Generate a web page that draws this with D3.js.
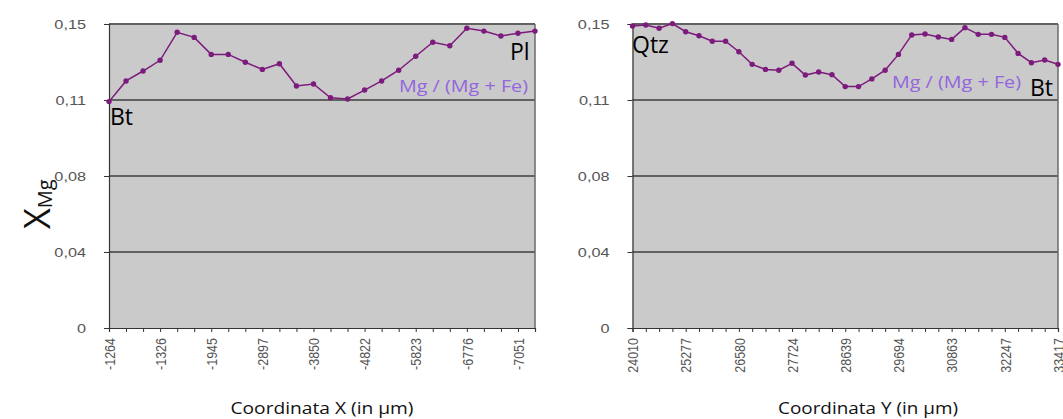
<!DOCTYPE html>
<html><head><meta charset="utf-8">
<script src="https://cdn.jsdelivr.net/npm/d3@7"></script>
<style>body{margin:0;background:#fff}svg{display:block}</style>
</head><body>
<svg id="c" width="1063" height="419"></svg>
<script>
const leftValues = [0.1117,0.1219,0.1268,0.1321,0.1459,0.1434,0.1350,0.1350,0.1311,0.1276,0.1304,0.1194,0.1204,0.1136,0.1130,0.1174,0.1219,0.1272,0.1341,0.1410,0.1393,0.1479,0.1465,0.1441,0.1454,0.1465];
const leftTickLabels = ["-1264","-1326","-1945","-2897","-3850","-4822","-5823","-6776","-7051"];
const rightValues = [0.1490,0.1495,0.1479,0.1502,0.1462,0.1442,0.1415,0.1415,0.1363,0.1301,0.1276,0.1272,0.1306,0.1248,0.1263,0.1250,0.1191,0.1191,0.1229,0.1272,0.1350,0.1446,0.1451,0.1436,0.1424,0.1482,0.1449,0.1449,0.1434,0.1355,0.1309,0.1322,0.1301];
const rightTickLabels = ["24010","25277","26580","27724","28639","29694","30863","32247","33417"];
const yTicks = [0, 0.0375, 0.075, 0.1125, 0.15];
const yTickLabels = ["0","0,04","0,08","0,11","0,15"];
const seriesName = "Mg / (Mg + Fe)";

const svg = d3.select("#c");
const purple = "#7d1a7d";

function stretch(sel, k){
  sel.each(function(){
    const w = this.getComputedTextLength();
    d3.select(this).attr("textLength", w * k).attr("lengthAdjust", "spacingAndGlyphs");
  });
}

function panel(cfg){
  const n = cfg.values.length;
  const x = d3.scalePoint().domain(d3.range(n)).range([cfg.x0, cfg.x1]).padding(0);
  const y = d3.scaleLinear().domain([0, 0.15]).range([328, 24]);
  const g = svg.append("g");
  g.append("rect").attr("x", cfg.x0).attr("y", y(0.15)).attr("width", cfg.x1 - cfg.x0).attr("height", y(0) - y(0.15)).attr("fill", "#cacaca");
  g.selectAll(".grid").data(yTicks.filter(t => t > 0)).join("line")
    .attr("x1", cfg.x0).attr("x2", cfg.x1).attr("y1", d => y(d)).attr("y2", d => y(d))
    .attr("stroke", "#616161").attr("stroke-width", 2);
  g.append("line").attr("x1", cfg.x1).attr("x2", cfg.x1).attr("y1", y(0.15)).attr("y2", y(0)).attr("stroke", "#6a6a6a").attr("stroke-width", 1.5);
  const yAxis = d3.axisLeft(y).tickValues(yTicks).tickSize(5).tickFormat((d, i) => yTickLabels[i]).tickPadding(18);
  const ya = g.append("g").attr("transform", `translate(${cfg.x0},0)`).call(yAxis);
  ya.select(".domain").attr("stroke", "#333").attr("stroke-width", 1.2);
  ya.selectAll(".tick line").attr("stroke", "#333");
  ya.selectAll("text").attr("fill", "#555").style("font-family", "Liberation Sans, Arial, sans-serif").style("font-size", "13px");
  stretch(ya.selectAll("text"), 1.25);
  const tickIdx = cfg.tickLabels.map((_, i) => i * cfg.every);
  const xAxis = d3.axisBottom(x).tickSize(4).tickFormat(d => { const k = tickIdx.indexOf(d); return k >= 0 ? cfg.tickLabels[k] : ""; });
  const xa = g.append("g").attr("transform", `translate(0,${y(0)})`).call(xAxis);
  xa.select(".domain").attr("stroke", "#333").attr("stroke-width", 1.2);
  xa.selectAll(".tick line").attr("stroke", "#333");
  xa.selectAll("text").attr("fill", "#555").style("font-family", "Liberation Sans, Arial, sans-serif").style("font-size", "12.5px")
    .attr("transform", "rotate(-90) scale(1,1.2)").attr("text-anchor", "end").attr("dy", "0.35em").attr("x", -10).attr("y", 0);
  const line = d3.line().x((d, i) => x(i)).y(d => y(d));
  g.append("path").datum(cfg.values).attr("d", line).attr("fill", "none").attr("stroke", purple).attr("stroke-width", 1.5);
  g.selectAll(".pt").data(cfg.values).join("circle").attr("cx", (d, i) => x(i)).attr("cy", d => y(d)).attr("r", 2.7).attr("fill", purple);
  const tt = g.append("text").attr("x", cfg.titleX).attr("y", 414).attr("text-anchor", "middle").attr("fill", "#111")
    .style("font-family", "Open Sans, sans-serif").style("font-size", "17px").text(cfg.title);
  tt.attr("textLength", cfg.titleW).attr("lengthAdjust", "spacingAndGlyphs");
  g.append("text").attr("x", cfg.nameX).attr("y", cfg.nameY).attr("text-anchor", "end").attr("fill", "#9466dd")
    .style("font-family", "Open Sans, sans-serif").style("font-size", "16px")
    .attr("textLength", 129).attr("lengthAdjust", "spacingAndGlyphs").text(seriesName);
  cfg.notes.forEach(nt => g.append("text").attr("x", nt.x).attr("y", nt.y).attr("fill", "#000")
    .style("font-family", "Open Sans, sans-serif").style("font-size", "23px").text(nt.t));
}

panel({values: leftValues, tickLabels: leftTickLabels, every: 3, x0: 109, x1: 535, title: "Coordinata X (in µm)", titleX: 322, titleW: 183,
  nameX: 528, nameY: 92, notes: [{t: "Bt", x: 110, y: 125}, {t: "Pl", x: 510, y: 60}]});
panel({values: rightValues, tickLabels: rightTickLabels, every: 4, x0: 632.5, x1: 1058, title: "Coordinata Y (in µm)", titleX: 868, titleW: 180,
  nameX: 1021, nameY: 88, notes: [{t: "Qtz", x: 632, y: 53}, {t: "Bt", x: 1030, y: 96}]});

const yt = svg.append("text").attr("transform", "translate(50,229) rotate(-90)").attr("fill", "#111")
  .style("font-family", "Open Sans, sans-serif");
yt.append("tspan").style("font-size", "36px").text("X");
yt.append("tspan").style("font-size", "20px").attr("dy", 2).text("Mg");
</script>
</body></html>
